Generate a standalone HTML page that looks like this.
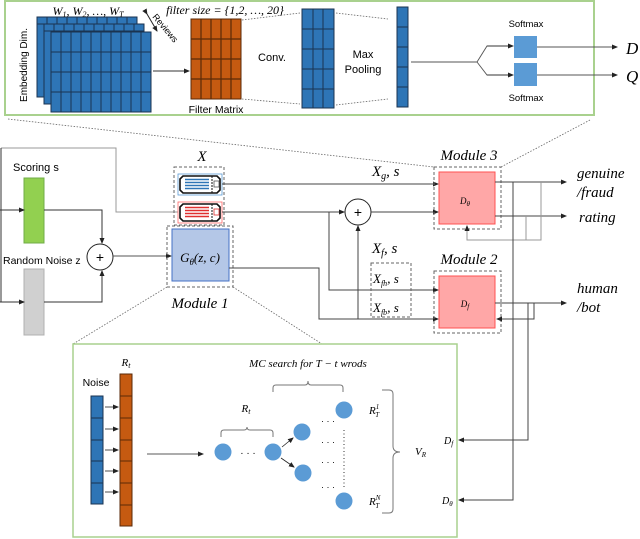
<!DOCTYPE html>
<html><head><meta charset="utf-8"><style>
html,body{margin:0;padding:0;background:#fff;}
svg{display:block;}
.s{font-family:"Liberation Sans",sans-serif;}
.m{font-family:"Liberation Serif",serif;font-style:italic;}
</style></head><body>
<svg width="640" height="539" viewBox="0 0 640 539" xmlns="http://www.w3.org/2000/svg">
<defs>
<marker id="a" markerWidth="6" markerHeight="6" refX="5" refY="3" orient="auto" markerUnits="userSpaceOnUse"><path d="M0,0.5 L6,3 L0,5.5z" fill="#222"/></marker>
</defs>

<!-- top box -->
<rect x="5" y="1" width="589" height="114" fill="#fff" stroke="#a9d18e" stroke-width="2"/>
<g stroke="#1b3350" stroke-width="1">
<rect x="37" y="17" width="100" height="80" fill="#2e75b6"/>
<rect x="44" y="24" width="100" height="80" fill="#2e75b6"/>
<rect x="51" y="32" width="100" height="80" fill="#2e75b6"/>
</g>
<g stroke="#1b3350" stroke-width="1">
<path d="M37,24H137M47,17V24M57,17V24M67,17V24M77,17V24M87,17V24M97,17V24M107,17V24M117,17V24M127,17V24"/>
<path d="M44,31H144M54,24V31M64,24V31M74,24V31M84,24V31M94,24V31M104,24V31M114,24V31M124,24V31M134,24V31"/>
<path d="M61,32V112M71,32V112M81,32V112M91,32V112M101,32V112M111,32V112M121,32V112M131,32V112M141,32V112M51,52H151M51,72H151M51,92H151"/>
</g>
<text x="88" y="15" class="m" font-size="12" text-anchor="middle">W<tspan font-size="8" dy="2">1</tspan><tspan dy="-2">, W</tspan><tspan font-size="8" dy="2">2</tspan><tspan dy="-2">, …, W</tspan><tspan font-size="8" dy="2">T</tspan></text>
<text x="0" y="0" class="s" font-size="9" transform="translate(152,17) rotate(50)">Reviews</text>
<line x1="147" y1="14" x2="157" y2="31" stroke="#222" stroke-width="1" marker-end="url(#a)" marker-start="url(#a)"/>
<text x="0" y="0" class="s" font-size="10" text-anchor="middle" transform="translate(27,65) rotate(-90)">Embedding Dim.</text>
<line x1="153" y1="71" x2="189" y2="71" stroke="#333" stroke-width="1" marker-end="url(#a)"/>
<rect x="191" y="19" width="50" height="80" fill="#c55a11" stroke="#5a2a08" stroke-width="1"/>
<path d="M201,19V99M211,19V99M221,19V99M231,19V99M191,39H241M191,59H241M191,79H241" stroke="#5a2a08" stroke-width="1.2"/>
<text x="216" y="113" class="s" font-size="10.5" text-anchor="middle">Filter Matrix</text>
<text x="225" y="14" class="m" font-size="12" text-anchor="middle">filter size = {1,2, …, 20}</text>
<path d="M242,20L300,13M242,99L300,104M336,13L388,19M336,105L388,99" stroke="#666" stroke-width="0.8" stroke-dasharray="1.5,1.5" fill="none"/>
<text x="272" y="61" class="s" font-size="11" text-anchor="middle">Conv.</text>
<rect x="302" y="9" width="32" height="99" fill="#2e75b6" stroke="#1b3350"/>
<path d="M313,9V108M323,9V108M302,29H334M302,49H334M302,69H334M302,89H334" stroke="#1b3350" stroke-width="1"/>
<text x="363" y="58" class="s" font-size="11" text-anchor="middle">Max</text>
<text x="363" y="73" class="s" font-size="11" text-anchor="middle">Pooling</text>
<rect x="397" y="7" width="11" height="100" fill="#2e75b6" stroke="#1b3350"/>
<path d="M397,27H408M397,47H408M397,67H408M397,87H408" stroke="#1b3350"/>
<path d="M411,62H477L487,46H513M477,62L487,75H513" stroke="#555" stroke-width="0.9" fill="none"/>
<line x1="487" y1="46" x2="513" y2="46" stroke="#333" marker-end="url(#a)"/>
<line x1="487" y1="75" x2="513" y2="75" stroke="#333" marker-end="url(#a)"/>
<rect x="514" y="36" width="23" height="22" fill="#5b9bd5"/>
<rect x="514" y="63" width="23" height="23" fill="#5b9bd5"/>
<text x="526" y="27" class="s" font-size="9.5" text-anchor="middle">Softmax</text>
<text x="526" y="101" class="s" font-size="9.5" text-anchor="middle">Softmax</text>
<line x1="537" y1="47" x2="617" y2="47" stroke="#555" marker-end="url(#a)"/>
<line x1="537" y1="75" x2="617" y2="75" stroke="#555" marker-end="url(#a)"/>
<text x="626" y="54" class="m" font-size="17">D</text>
<text x="626" y="82" class="m" font-size="17">Q</text>

<path d="M8,119L434,167M590,120L501,167" stroke="#666" stroke-width="0.8" stroke-dasharray="1.5,1.5" fill="none"/>

<!-- left part -->
<path d="M1,148H116V212H178" stroke="#999" stroke-width="1" fill="none"/>
<text x="13" y="171" class="s" font-size="11">Scoring s</text>
<rect x="24" y="178" width="20" height="65" fill="#92d050" stroke="#70ad47"/>
<text x="3" y="264" class="s" font-size="10.5">Random Noise z</text>
<rect x="24" y="269" width="20" height="66" fill="#d0d0d0" stroke="#b0b0b0"/>
<path d="M1,148V302" stroke="#333" fill="none"/>
<line x1="0" y1="210" x2="24" y2="210" stroke="#333" marker-end="url(#a)"/>
<line x1="0" y1="302" x2="24" y2="302" stroke="#333" marker-end="url(#a)"/>
<path d="M44,210H102V243" stroke="#333" fill="none" marker-end="url(#a)"/>
<path d="M44,302H102V271" stroke="#333" fill="none" marker-end="url(#a)"/>
<circle cx="100" cy="257" r="13" fill="#fff" stroke="#222"/>
<text x="100" y="262" class="s" font-size="14" text-anchor="middle">+</text>
<line x1="113" y1="256" x2="171" y2="256" stroke="#555" marker-end="url(#a)"/>

<!-- X cards -->
<text x="202" y="161" class="m" font-size="15" text-anchor="middle">X</text>
<rect x="174" y="167" width="50" height="58" fill="none" stroke="#666" stroke-dasharray="3,2"/>
<rect x="178" y="174" width="44" height="21" fill="#fff" stroke="#5b9bd5" stroke-width="0.8"/>
<path d="M183,176H217L220,179V190L217,193H183L180,190V179Z" fill="#fff" stroke="#111" stroke-width="1.6"/>
<path d="M185,179.5H209M185,182.5H209M185,185.5H209M185,188.5H209" stroke="#2e75b6" stroke-width="1.4"/>
<line x1="212" y1="176" x2="212" y2="193" stroke="#111" stroke-dasharray="2,1"/>
<rect x="214" y="181" width="5" height="6" fill="none" stroke="#555" stroke-width="0.8"/>
<rect x="178" y="202" width="44" height="21" fill="#fff" stroke="#ff6666" stroke-width="0.8"/>
<path d="M183,204H217L220,207V218L217,221H183L180,218V207Z" fill="#fff" stroke="#111" stroke-width="1.6"/>
<path d="M185,207.5H209M185,210.5H209M185,213.5H209M185,216.5H209" stroke="#e03030" stroke-width="1.4"/>
<line x1="212" y1="204" x2="212" y2="221" stroke="#111" stroke-dasharray="2,1"/>
<rect x="214" y="209" width="5" height="6" fill="none" stroke="#e03030" stroke-width="0.8"/>

<!-- Module 1 -->
<rect x="167" y="226" width="66" height="61" fill="none" stroke="#666" stroke-dasharray="3,2"/>
<rect x="172" y="229" width="57" height="52" fill="#b4c7e7" stroke="#4472c4" stroke-width="1"/>
<text x="200" y="262" class="m" font-size="13" text-anchor="middle">G<tspan font-size="9" dy="3">θ</tspan><tspan dy="-3">(z, c)</tspan></text>
<text x="200" y="308" class="m" font-size="15" text-anchor="middle">Module 1</text>

<line x1="222" y1="184" x2="438" y2="184" stroke="#444" marker-end="url(#a)"/>
<path d="M222,212H344" stroke="#444" fill="none" marker-end="url(#a)"/>
<circle cx="358" cy="212" r="13" fill="#fff" stroke="#222"/>
<text x="358" y="217" class="s" font-size="14" text-anchor="middle">+</text>
<line x1="371" y1="212" x2="438" y2="212" stroke="#444" marker-end="url(#a)"/>
<path d="M329,212V290H438" stroke="#444" fill="none" marker-end="url(#a)"/>
<path d="M229,268H319V319H438" stroke="#444" fill="none" marker-end="url(#a)"/>
<line x1="358" y1="319" x2="358" y2="226" stroke="#444" marker-end="url(#a)"/>
<text x="372" y="176" class="m" font-size="15">X<tspan font-size="10" dy="3">g</tspan><tspan dy="-3">, s</tspan></text>
<text x="372" y="253" class="m" font-size="15">X<tspan font-size="10" dy="3">f</tspan><tspan dy="-3">, s</tspan></text>
<rect x="371" y="263" width="40" height="54" fill="none" stroke="#666" stroke-dasharray="3,2"/>
<text x="373" y="283" class="m" font-size="13">X<tspan font-size="8" dy="3">fh</tspan><tspan dy="-3">, s</tspan></text>
<text x="373" y="312" class="m" font-size="13">X<tspan font-size="8" dy="3">fb</tspan><tspan dy="-3">, s</tspan></text>

<!-- Module 3 -->
<text x="469" y="160" class="m" font-size="15" text-anchor="middle">Module 3</text>
<rect x="434" y="167" width="67" height="62" fill="none" stroke="#666" stroke-dasharray="3,2"/>
<rect x="439" y="172" width="56" height="52" fill="#ffa7a7" stroke="#ff5050" stroke-width="1"/>
<text x="465" y="204" class="m" font-size="9" text-anchor="middle">D<tspan font-size="7" dy="2">θ</tspan></text>
<line x1="495" y1="182" x2="566" y2="182" stroke="#444" marker-end="url(#a)"/>
<line x1="495" y1="216" x2="566" y2="216" stroke="#444" marker-end="url(#a)"/>
<path d="M541,182V240H467V226" stroke="#999" fill="none" marker-end="url(#a)"/>
<path d="M526,216V240" stroke="#999" fill="none"/>
<text x="577" y="178" class="m" font-size="15">genuine</text>
<text x="577" y="197" class="m" font-size="15">/fraud</text>
<text x="579" y="222" class="m" font-size="15">rating</text>

<!-- Module 2 -->
<text x="469" y="264" class="m" font-size="15" text-anchor="middle">Module 2</text>
<rect x="434" y="271" width="67" height="62" fill="none" stroke="#666" stroke-dasharray="3,2"/>
<rect x="439" y="276" width="56" height="52" fill="#ffa7a7" stroke="#ff5050" stroke-width="1"/>
<text x="465" y="307" class="m" font-size="9" text-anchor="middle">D<tspan font-size="7" dy="2">f</tspan></text>
<line x1="495" y1="303" x2="566" y2="303" stroke="#444" marker-end="url(#a)"/>
<path d="M534,303V319H497" stroke="#444" fill="none" marker-end="url(#a)"/>
<text x="577" y="293" class="m" font-size="15">human</text>
<text x="577" y="312" class="m" font-size="15">/bot</text>

<path d="M513,182V500H459" stroke="#444" fill="none" marker-end="url(#a)"/>
<path d="M528,303V440H459" stroke="#444" fill="none" marker-end="url(#a)"/>

<path d="M167,287L73,344M233,287L322,344" stroke="#666" stroke-width="0.8" stroke-dasharray="1.5,1.5" fill="none"/>

<!-- bottom panel -->
<rect x="73" y="344" width="384" height="193" fill="#fff" stroke="#a9d18e" stroke-width="1.5"/>
<text x="96" y="386" class="s" font-size="10.5" text-anchor="middle">Noise</text>
<rect x="91" y="396" width="12" height="108" fill="#2e75b6" stroke="#1b3350"/>
<path d="M91,418H103M91,440H103M91,461H103M91,483H103" stroke="#1b3350"/>
<text x="126" y="366" class="m" font-size="11" text-anchor="middle">R<tspan font-size="8" dy="2">t</tspan></text>
<rect x="120" y="374" width="12" height="152" fill="#c55a11" stroke="#5a2a08"/>
<path d="M120,396H132M120,418H132M120,440H132M120,461H132M120,483H132M120,505H132" stroke="#5a2a08"/>
<g stroke="#222" stroke-width="0.8">
<line x1="105" y1="407" x2="118" y2="407" marker-end="url(#a)"/>
<line x1="105" y1="429" x2="118" y2="429" marker-end="url(#a)"/>
<line x1="105" y1="450" x2="118" y2="450" marker-end="url(#a)"/>
<line x1="105" y1="471" x2="118" y2="471" marker-end="url(#a)"/>
<line x1="105" y1="492" x2="118" y2="492" marker-end="url(#a)"/>
<line x1="147" y1="454" x2="203" y2="454" marker-end="url(#a)"/>
<line x1="282" y1="447" x2="293" y2="438" marker-end="url(#a)"/>
<line x1="281" y1="458" x2="294" y2="467" marker-end="url(#a)"/>
</g>
<g fill="#5b9bd5">
<circle cx="223" cy="452" r="8.5"/><circle cx="273" cy="452" r="8.5"/>
<circle cx="302" cy="432" r="8.5"/><circle cx="303" cy="473" r="8.5"/>
<circle cx="344" cy="410" r="8.5"/><circle cx="344" cy="501" r="8.5"/>
</g>
<text x="248" y="456" class="s" font-size="10" text-anchor="middle">· · ·</text>
<text x="321" y="424" class="s" font-size="9">·  ·  ·</text>
<text x="321" y="445" class="s" font-size="9">·  ·  ·</text>
<text x="321" y="465" class="s" font-size="9">·  ·  ·</text>
<text x="321" y="490" class="s" font-size="9">·  ·  ·</text>
<line x1="344" y1="430" x2="344" y2="487" stroke="#333" stroke-dasharray="1,2.5"/>
<path d="M221,437V433Q221,430 224,430H244Q247,430 247,427Q247,430 250,430H270Q273,430 273,433V437" stroke="#777" fill="none"/>
<text x="246" y="412" class="m" font-size="11" text-anchor="middle">R<tspan font-size="8" dy="2">t</tspan></text>
<path d="M273,392V388Q273,385 276,385H305Q308,385 308,381Q308,385 311,385H340Q343,385 343,388V392" stroke="#777" fill="none"/>
<text x="308" y="367" class="m" font-size="11" text-anchor="middle">MC search for  T − t wrods</text>
<text x="369" y="414" class="m" font-size="11">R<tspan font-size="7" dy="-5">1</tspan><tspan font-size="7" dx="-4" dy="8">T</tspan></text>
<text x="369" y="505" class="m" font-size="11">R<tspan font-size="7" dy="-5">N</tspan><tspan font-size="7" dx="-5" dy="8">T</tspan></text>
<path d="M382,390H389Q393,390 393,394V446Q393,452 400,452Q393,452 393,458V509Q393,513 389,513H382" stroke="#777" fill="none"/>
<text x="415" y="455" class="m" font-size="11">V<tspan font-size="7" dy="2">R</tspan></text>
<text x="444" y="444" class="m" font-size="10">D<tspan font-size="7" dy="2">f</tspan></text>
<text x="442" y="504" class="m" font-size="10">D<tspan font-size="7" dy="2">θ</tspan></text>
</svg>
</body></html>
